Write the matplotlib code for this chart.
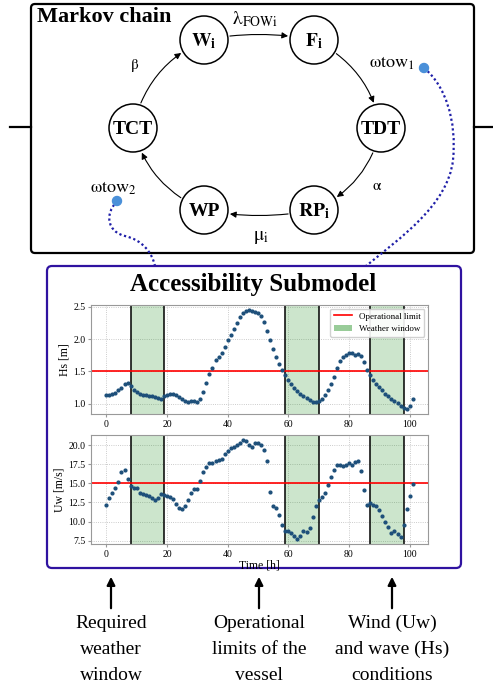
import numpy as np
import matplotlib
matplotlib.use("Agg")
import matplotlib.pyplot as plt
from matplotlib.patches import Circle, FancyArrowPatch, FancyBboxPatch, Patch, PathPatch
from matplotlib.lines import Line2D
from matplotlib.path import Path

plt.rcParams['font.family'] = ['Liberation Serif', 'DejaVu Serif']
plt.rcParams['mathtext.fontset'] = 'stix'
plt.rcParams['mathtext.default'] = 'rm'

# ---- data ----
hours = np.arange(102)
hs = [1.13, 1.13, 1.15, 1.17, 1.21, 1.25, 1.31, 1.32, 1.27, 1.22,
      1.18, 1.16, 1.14, 1.13, 1.12, 1.12, 1.11, 1.09, 1.08, 1.12,
      1.14, 1.15, 1.15, 1.13, 1.11, 1.08, 1.05, 1.03, 1.04, 1.04,
      1.03, 1.08, 1.18, 1.32, 1.46, 1.56, 1.67, 1.73, 1.79, 1.88,
      1.98, 2.07, 2.15, 2.25, 2.34, 2.40, 2.44, 2.45, 2.44, 2.42,
      2.40, 2.36, 2.26, 2.13, 1.99, 1.84, 1.72, 1.62, 1.52, 1.44,
      1.37, 1.30, 1.25, 1.20, 1.16, 1.12, 1.09, 1.06, 1.03, 1.03,
      1.05, 1.08, 1.13, 1.21, 1.31, 1.42, 1.56, 1.66, 1.72, 1.75,
      1.79, 1.78, 1.76, 1.77, 1.74, 1.65, 1.53, 1.44, 1.37, 1.31,
      1.26, 1.21, 1.16, 1.12, 1.08, 1.04, 1.01, 0.97, 0.93, 0.92,
      0.97, 1.08]
uw = [12.2, 13.1, 13.8, 14.4, 15.2, 16.5, 16.7, 15.6, 14.7, 14.4,
      14.4, 13.8, 13.6, 13.5, 13.3, 13.1, 12.8, 13.1, 13.6, 13.5,
      13.4, 13.2, 12.9, 12.3, 11.8, 11.7, 12.0, 12.8, 13.8, 14.3,
      14.3, 15.3, 16.5, 17.2, 17.7, 17.7, 17.9, 18.1, 18.2, 18.9,
      19.3, 19.6, 19.8, 20.0, 20.3, 20.7, 20.6, 20.1, 19.8, 20.3,
      20.3, 20.0, 19.4, 17.9, 13.9, 12.0, 11.8, 10.8, 9.6, 8.7,
      8.8, 8.5, 8.1, 7.7, 8.1, 8.8, 8.6, 9.2, 10.6, 12.0,
      12.8, 13.2, 13.8, 14.8, 15.9, 16.8, 17.4, 17.4, 17.3, 17.4,
      17.7, 17.4, 17.8, 17.9, 16.6, 14.1, 12.2, 12.4, 12.2, 12.0,
      11.5, 10.7, 9.9, 9.3, 8.5, 8.7, 8.4, 8.0, 9.6, 11.7,
      13.4, 14.9]
hs_limit = 1.5
uw_limit = 15.0
windows = [(8, 19), (59, 70), (87, 98)]

states = [r'$\mathbf{W_i}$', r'$\mathbf{F_i}$', 'TDT', r'$\mathbf{RP_i}$', 'WP', 'TCT']
rates = [r'$\lambda_{\mathrm{FOWi}}$', '', r'$\alpha$', r'$\mu_{\mathrm{i}}$', '', r'$\beta$']
tow_labels = [r'$\omega\mathrm{tow}_1$', r'$\omega\mathrm{tow}_2$']
notes = [['Required', 'weather', 'window'],
         ['Operational', 'limits of the', 'vessel'],
         ['Wind (Uw)', 'and wave (Hs)', 'conditions']]

# ---- layout (pixels) ----
node_xy = [(204, 40), (314, 40), (381, 128), (314, 210), (204, 210), (133, 128)]
rate_xy = [(255, 19), None, (377, 187), (261, 237), None, (135, 65)]
tow_xy = [(392, 63), (113, 188)]
note_x = [111, 259, 392]

fig = plt.figure(figsize=(4.93, 6.89), dpi=100)
ax0 = fig.add_axes([0, 0, 1, 1])
ax0.set_xlim(0, 493)
ax0.set_ylim(689, 0)
ax0.axis('off')

# Markov chain box
ax0.add_patch(FancyBboxPatch((31, 4), 443, 249, boxstyle='round,pad=0,rounding_size=4',
                             fc='none', ec='black', lw=1.6))
ax0.plot([10, 31], [127, 127], color='black', lw=1.6)
ax0.plot([474, 493], [127, 127], color='black', lw=1.6)
ax0.text(37, 17, 'Markov chain', fontsize=16, fontweight='bold', va='center', ha='left')

circles = []
for (x, y), name in zip(node_xy, states):
    c = Circle((x, y), 24, fc='white', ec='black', lw=1.1, zorder=3)
    ax0.add_patch(c)
    circles.append(c)
    ax0.text(x, y + 1, name, fontsize=14, fontweight='bold', ha='center', va='center', zorder=4)

for i in range(len(states)):
    j = (i + 1) % len(states)
    rad = -0.1 if node_xy[i][1] == node_xy[j][1] else -0.25
    arr = FancyArrowPatch(node_xy[i], node_xy[j], patchA=circles[i], patchB=circles[j],
                          connectionstyle='arc3,rad=%s' % rad, arrowstyle='-|>',
                          mutation_scale=9, lw=0.8, color='black', zorder=2)
    ax0.add_patch(arr)
    if rate_xy[i] is not None:
        ax0.text(rate_xy[i][0], rate_xy[i][1], rates[i], fontsize=14 if i in (0, 3) else 11,
                 ha='center', va='center')

for (x, y), lab in zip(tow_xy, tow_labels):
    ax0.text(x, y, lab, fontsize=13, ha='center', va='center')

# dotted links to the accessibility submodel
link1 = Path([(424, 68), (445, 85), (457, 120), (453, 160), (448, 205), (400, 238), (366, 266)],
             [Path.MOVETO] + [Path.CURVE4] * 6)
link2 = Path([(117, 201), (104, 215), (108, 232), (125, 236), (142, 240), (152, 252), (155, 266)],
             [Path.MOVETO] + [Path.CURVE4] * 6)
for p in (link1, link2):
    ax0.add_patch(PathPatch(p, fc='none', ec='#1f1fa8', lw=1.6, ls=(0, (1, 1.2))))
ax0.add_patch(Circle((424, 68), 4.5, color='#4a90d9', zorder=5))
ax0.add_patch(Circle((117, 201), 4.5, color='#4a90d9', zorder=5))

# accessibility submodel box
ax0.add_patch(FancyBboxPatch((47, 266), 414, 302, boxstyle='round,pad=0,rounding_size=5',
                             fc='white', ec='#2f12a0', lw=1.6))
ax0.text(253, 285, 'Accessibility Submodel', fontsize=18, fontweight='bold',
         ha='center', va='center')

# bottom arrows and notes
for x, lines in zip(note_x, notes):
    ax0.annotate('', xy=(x, 574), xytext=(x, 611),
                 arrowprops=dict(arrowstyle='-|>', lw=1.6, color='black', mutation_scale=12))
    for k, line in enumerate(lines):
        ax0.text(x, 623 + 26.5 * k, line, fontsize=14, ha='center', va='center')


def draw_panel(ax, y, limit, ylabel):
    for a, b in windows:
        ax.axvspan(a, b, color='green', alpha=0.2, lw=0)
        ax.axvline(a, color='black', lw=1.1)
        ax.axvline(b, color='black', lw=1.1)
    ax.axhline(limit, color='red', lw=1.2)
    ax.scatter(hours, y, s=4, color='#1d4f7a', zorder=3)
    ax.grid(True, ls=':', color='#bbbbbb', lw=0.6)
    ax.set_axisbelow(True)
    for s in ax.spines.values():
        s.set_color('#999999')
    ax.tick_params(labelsize=7, length=2, color='#999999', pad=2)
    ax.set_ylabel(ylabel, fontsize=8.5, labelpad=2)
    ax.set_xticks([0, 20, 40, 60, 80, 100])


ax1 = fig.add_axes([91 / 493, (689 - 414) / 689, 337 / 493, 109 / 689])
draw_panel(ax1, hs, hs_limit, 'Hs [m]')
ax1.set_yticks([1.0, 1.5, 2.0, 2.5])
ax1.legend(handles=[Line2D([], [], color='red', lw=1.2, label='Operational limit'),
                    Patch(facecolor='green', alpha=0.4, label='Weather window')],
           loc='upper right', fontsize=6.5, framealpha=0.9, edgecolor='#cccccc',
           borderaxespad=0.4)

ax2 = fig.add_axes([91 / 493, (689 - 544) / 689, 337 / 493, 109 / 689])
draw_panel(ax2, uw, uw_limit, 'Uw [m/s]')
ax2.set_yticks([7.5, 10.0, 12.5, 15.0, 17.5, 20.0])
ax2.set_xlabel('Time [h]', fontsize=8.5, labelpad=1)

fig.savefig('out.png', dpi=100)
